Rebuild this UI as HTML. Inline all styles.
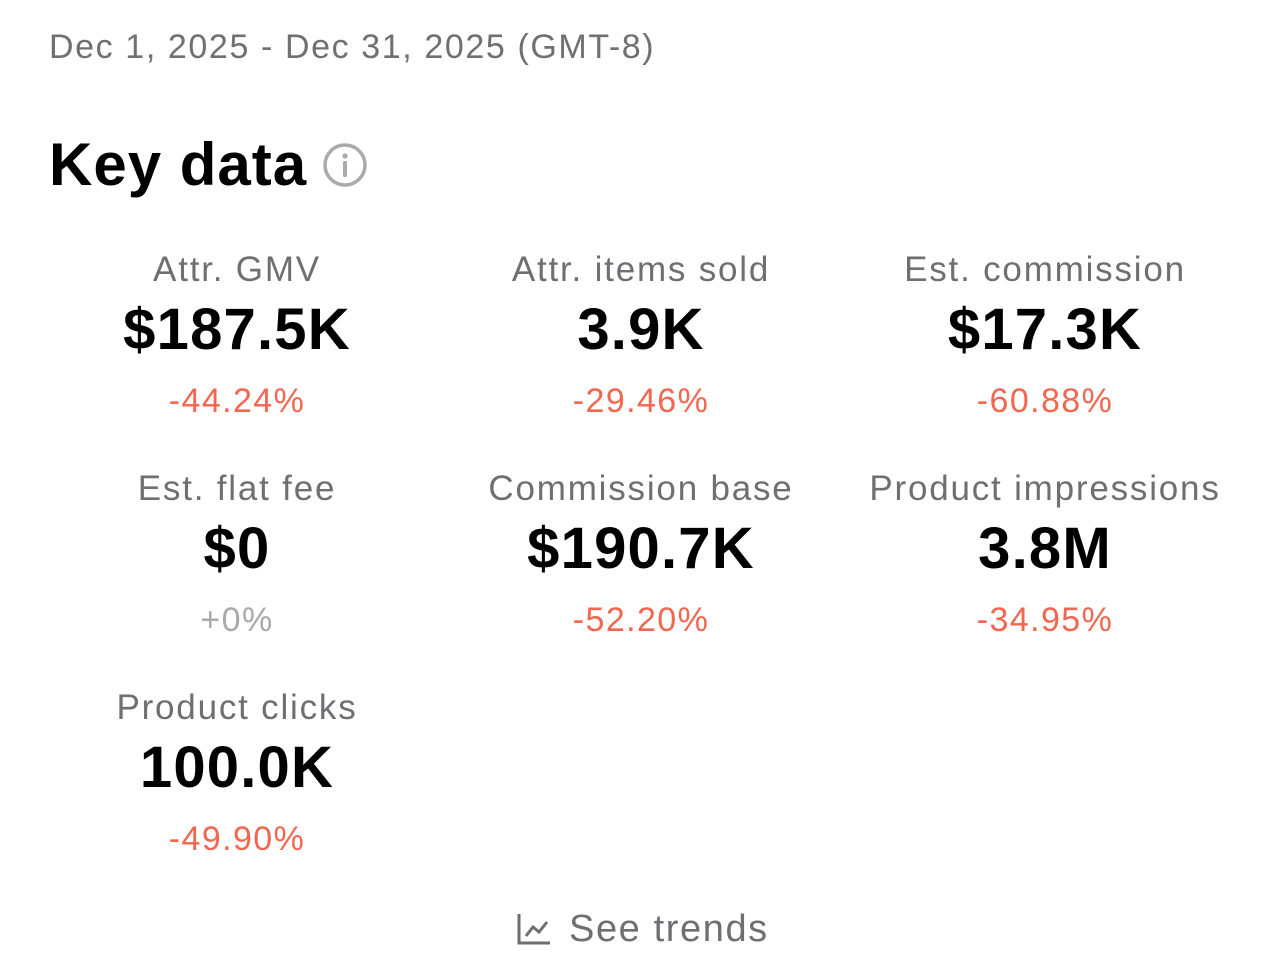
<!DOCTYPE html>
<html><head><meta charset="utf-8"><style>
body{margin:0;width:1284px;height:978px;background:#fff;font-family:"Liberation Sans",sans-serif;position:relative;overflow:hidden}
.a{position:absolute;white-space:nowrap}
.date{left:49px;top:28px;font-size:34px;color:#707070;letter-spacing:1.6px}
.title{left:49px;top:130px;font-size:60px;font-weight:bold;color:#000;letter-spacing:1px}
.c{position:absolute;width:400px;text-align:center;white-space:nowrap}
.l{font-size:35px;color:#6e6e73;line-height:40px;letter-spacing:1.8px}
.v{font-size:58px;font-weight:bold;color:#000;line-height:64px;margin-top:8px;letter-spacing:1.2px}
.p{font-size:34px;color:#f2674f;line-height:40px;margin-top:19px;letter-spacing:1.4px}
.g{color:#aaa}
</style></head><body>
<div class="a date">Dec 1, 2025 - Dec 31, 2025 (GMT-8)</div>
<div class="a title">Key data</div>
<svg class="a" style="left:322px;top:142px" width="46" height="46" viewBox="0 0 46 46"><circle cx="23" cy="23" r="20" fill="none" stroke="#aaa" stroke-width="3.5"/><circle cx="23" cy="14" r="2.6" fill="#aaa"/><rect x="21" y="19" width="4" height="16" rx="1.5" fill="#aaa"/></svg>

<div class="c" style="left:37px;top:250px"><div class="l">Attr. GMV</div><div class="v">$187.5K</div><div class="p">-44.24%</div></div>
<div class="c" style="left:441px;top:250px"><div class="l">Attr. items sold</div><div class="v">3.9K</div><div class="p">-29.46%</div></div>
<div class="c" style="left:845px;top:250px"><div class="l">Est. commission</div><div class="v">$17.3K</div><div class="p">-60.88%</div></div>

<div class="c" style="left:37px;top:469px"><div class="l">Est. flat fee</div><div class="v">$0</div><div class="p g">+0%</div></div>
<div class="c" style="left:441px;top:469px"><div class="l">Commission base</div><div class="v">$190.7K</div><div class="p">-52.20%</div></div>
<div class="c" style="left:845px;top:469px"><div class="l">Product impressions</div><div class="v">3.8M</div><div class="p">-34.95%</div></div>

<div class="c" style="left:37px;top:688px"><div class="l">Product clicks</div><div class="v">100.0K</div><div class="p">-49.90%</div></div>

<svg class="a" style="left:517px;top:912px" width="36" height="34" viewBox="0 0 36 34"><path d="M2 2V31H33" fill="none" stroke="#6e6e73" stroke-width="3"/><path d="M9 24L16 15L22 20L30 10" fill="none" stroke="#6e6e73" stroke-width="3"/></svg>
<div class="a" style="left:569px;top:908px;font-size:38px;color:#6e6e73;letter-spacing:1.6px">See trends</div>
</body></html>
